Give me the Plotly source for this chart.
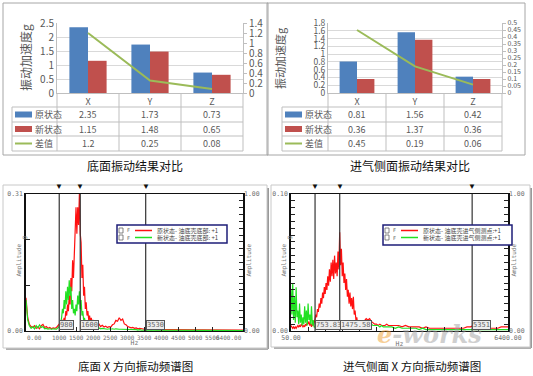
import numpy as np
import plotly.graph_objects as go

W, H = 533, 376
def px(x): return x / W
def py(y): return 1 - y / H

# ---------------- data ----------------
categories = ["X", "Y", "Z"]
series_names = ["原状态", "新状态", "差值"]
bottom_orig = [2.35, 1.73, 0.73]
bottom_new = [1.15, 1.48, 0.65]
bottom_diff = [1.2, 0.25, 0.08]
side_orig = [0.81, 1.56, 0.42]
side_new = [0.36, 1.37, 0.36]
side_diff = [0.45, 0.19, 0.06]

# spectrum 1 (bottom face, X direction)
freq_bottom = np.concatenate([np.arange(0, 900, 50), np.arange(900, 2100, 25),
                              np.arange(2100, 4000, 50), np.arange(4000, 6401, 100)])
amp_bottom_orig = [
    0.075, 0.03, 0.015, 0.01, 0.008, 0.012, 0.006, 0.009, 0.005, 0.012, 0.015, 0.008, 0.01, 0.006, 0.008, 0.005, 0.007, 0.006,
    0.008, 0.01, 0.012, 0.015, 0.012, 0.02, 0.015, 0.025, 0.02, 0.03, 0.025, 0.045, 0.035, 0.06, 0.045, 0.08, 0.06, 0.12,
    0.09, 0.16, 0.12, 0.18, 0.24, 0.28, 0.22, 0.28, 0.24, 0.31, 0.22, 0.2, 0.12, 0.15, 0.08, 0.1, 0.05, 0.065,
    0.035, 0.045, 0.025, 0.035, 0.02, 0.03, 0.018, 0.025, 0.015, 0.022, 0.013, 0.018,
    0.012, 0.016, 0.01, 0.013, 0.009, 0.011, 0.008, 0.01, 0.009, 0.014, 0.016, 0.024, 0.022, 0.03, 0.024, 0.027, 0.016, 0.014,
    0.01, 0.009, 0.007, 0.008, 0.006, 0.007, 0.005, 0.006, 0.005, 0.005, 0.004, 0.005, 0.004, 0.004, 0.003, 0.004, 0.003,
    0.003, 0.003, 0.003,
    0.003, 0.002, 0.003, 0.002, 0.002, 0.003, 0.002, 0.002, 0.002, 0.002, 0.002, 0.002, 0.002, 0.002, 0.002, 0.002, 0.002,
    0.002, 0.002, 0.002, 0.002, 0.002, 0.002, 0.002, 0.002]
amp_bottom_new = [
    0.07, 0.025, 0.012, 0.006, 0.01, 0.005, 0.012, 0.007, 0.014, 0.008, 0.01, 0.005, 0.006, 0.004, 0.005, 0.004, 0.005, 0.004,
    0.004, 0.006, 0.008, 0.01, 0.012, 0.02, 0.03, 0.05, 0.04, 0.07, 0.05, 0.09, 0.06, 0.1, 0.07, 0.115, 0.08, 0.1,
    0.05, 0.07, 0.04, 0.05, 0.035, 0.06, 0.045, 0.08, 0.06, 0.09, 0.05, 0.07, 0.035, 0.045, 0.025, 0.03, 0.018, 0.022,
    0.014, 0.016, 0.01, 0.012, 0.009, 0.01, 0.008, 0.009, 0.007, 0.008, 0.006, 0.007,
    0.006, 0.007, 0.005, 0.006, 0.005, 0.005, 0.004, 0.005, 0.004, 0.005, 0.004, 0.005, 0.004, 0.004, 0.004, 0.004, 0.003,
    0.004, 0.003, 0.003, 0.003, 0.003, 0.003, 0.003, 0.002, 0.003, 0.002, 0.002, 0.002, 0.002, 0.002, 0.002, 0.002, 0.002,
    0.002, 0.002, 0.002, 0.002,
    0.002, 0.002, 0.001, 0.002, 0.001, 0.002, 0.001, 0.001, 0.002, 0.001, 0.001, 0.001, 0.001, 0.001, 0.001, 0.001, 0.001,
    0.001, 0.001, 0.001, 0.001, 0.001, 0.001, 0.001, 0.001]
cursor_bottom = [980, 1600, 3530]
cursor_bottom_labels = ["980", "1600", "3530"]
xtick_bottom = [0, 1000, 1500, 2000, 2500, 3000, 3500, 4000, 4500, 5000, 5500, 6400]
xtick_bottom_text = ["0.00", "1000", "1500", "2000", "2500", "3000", "3500", "4000", "4500", "5000", "5500", "6400.00"]

# spectrum 2 (intake side, X direction)
freq_side = np.concatenate([np.arange(50, 750, 25), np.arange(750, 2000, 25),
                            np.arange(2000, 3000, 50), np.arange(3000, 6401, 100)])
amp_side_orig = [
    0.004, 0.003, 0.002, 0.003, 0.002, 0.003, 0.002, 0.003, 0.004, 0.003, 0.004, 0.003, 0.005, 0.004, 0.003, 0.004, 0.003,
    0.005, 0.004, 0.006, 0.005, 0.007, 0.004, 0.006, 0.003, 0.005, 0.004, 0.006,
    0.008, 0.012, 0.01, 0.016, 0.014, 0.02, 0.017, 0.024, 0.02, 0.028, 0.024, 0.032, 0.027, 0.035, 0.03, 0.04, 0.033, 0.045,
    0.036, 0.05, 0.04, 0.052, 0.038, 0.055, 0.042, 0.05, 0.04, 0.058, 0.045, 0.072, 0.048, 0.06, 0.04, 0.05, 0.035, 0.042,
    0.03, 0.038, 0.025, 0.03, 0.02, 0.028, 0.018, 0.024, 0.016, 0.025, 0.012, 0.015, 0.008, 0.01,
    0.005, 0.005, 0.006, 0.006, 0.008, 0.009, 0.008, 0.009, 0.007, 0.006, 0.005, 0.005, 0.004, 0.005, 0.004, 0.004, 0.004,
    0.005, 0.004, 0.004,
    0.004, 0.004, 0.004, 0.003, 0.004, 0.003, 0.003, 0.003, 0.003, 0.002, 0.003, 0.002, 0.002, 0.002, 0.002, 0.002, 0.002,
    0.002, 0.002, 0.002, 0.002, 0.002, 0.003, 0.003, 0.004, 0.003, 0.003, 0.002, 0.002, 0.002, 0.002, 0.002, 0.003, 0.003,
    0.003]
amp_side_new = [
    0.03, 0.012, 0.035, 0.008, 0.025, 0.006, 0.032, 0.01, 0.015, 0.005, 0.02, 0.006, 0.012, 0.004, 0.01, 0.005, 0.018,
    0.006, 0.015, 0.004, 0.02, 0.008, 0.012, 0.005, 0.018, 0.004, 0.008, 0.003,
    0.003, 0.002, 0.003, 0.002, 0.003, 0.003, 0.002, 0.003, 0.003, 0.004, 0.003, 0.004, 0.003, 0.004, 0.003, 0.004, 0.004,
    0.005, 0.004, 0.005, 0.004, 0.005, 0.004, 0.005, 0.005, 0.006, 0.005, 0.006, 0.005, 0.006, 0.005, 0.006, 0.005, 0.006,
    0.005, 0.006, 0.005, 0.006, 0.005, 0.006, 0.005, 0.005, 0.005, 0.005, 0.004, 0.005, 0.004, 0.005, 0.004, 0.005,
    0.005, 0.005, 0.006, 0.005, 0.006, 0.005, 0.005, 0.004, 0.005, 0.004, 0.004, 0.004, 0.004, 0.003, 0.004, 0.003, 0.003,
    0.003, 0.003, 0.003,
    0.003, 0.002, 0.003, 0.002, 0.002, 0.002, 0.002, 0.002, 0.001, 0.002, 0.001, 0.001, 0.001, 0.001, 0.001, 0.001, 0.001,
    0.001, 0.001, 0.001, 0.001, 0.001, 0.001, 0.001, 0.001, 0.001, 0.001, 0.001, 0.001, 0.001, 0.001, 0.001, 0.001, 0.001,
    0.001]
cursor_side = [753.83, 1475.58, 5351]
cursor_side_labels = ["753.83", "1475.58", "5351"]

legend_bottom = ["原状态- 油底壳底部: +1", "新状态- 油底壳底部: +1"]
legend_side = ["原状态- 油底壳进气侧测点:+1", "新状态- 油底壳进气侧测点:+1"]

# ---------------- style ----------------
BLUE, BRED, BGRN = "#4F81BD", "#C0504D", "#9BBB59"
SRED, SGRN = "#FF1010", "#22E022"
CJK = "Noto Sans CJK SC, DejaVu Sans, sans-serif"
MONO = "DejaVu Sans Mono, monospace"
GREY = "#595959"

fig = go.Figure()

fig.add_bar(x=categories, y=bottom_orig, marker_color=BLUE, xaxis="x", yaxis="y", offsetgroup="a")
fig.add_bar(x=categories, y=bottom_new, marker_color=BRED, xaxis="x", yaxis="y", offsetgroup="b")
fig.add_scatter(x=categories, y=bottom_diff, mode="lines", line=dict(color=BGRN, width=2), xaxis="x", yaxis="y2")
fig.add_bar(x=categories, y=side_orig, marker_color=BLUE, xaxis="x2", yaxis="y3", offsetgroup="a")
fig.add_bar(x=categories, y=side_new, marker_color=BRED, xaxis="x2", yaxis="y3", offsetgroup="b")
fig.add_scatter(x=categories, y=side_diff, mode="lines", line=dict(color=BGRN, width=2), xaxis="x2", yaxis="y4")
fig.add_scatter(x=freq_bottom, y=amp_bottom_orig, mode="lines", line=dict(color=SRED, width=1.2), xaxis="x3", yaxis="y5")
fig.add_scatter(x=freq_bottom, y=amp_bottom_new, mode="lines", line=dict(color=SGRN, width=1.2), xaxis="x3", yaxis="y5")
fig.add_scatter(x=[0], y=[0], mode="markers", marker=dict(opacity=0), xaxis="x3", yaxis="y6", hoverinfo="skip")
fig.add_scatter(x=freq_side, y=amp_side_orig, mode="lines", line=dict(color=SRED, width=1.2), xaxis="x4", yaxis="y7")
fig.add_scatter(x=freq_side, y=amp_side_new, mode="lines", line=dict(color=SGRN, width=1.2), xaxis="x4", yaxis="y7")
fig.add_scatter(x=[50], y=[0], mode="markers", marker=dict(opacity=0), xaxis="x4", yaxis="y8", hoverinfo="skip")

P1 = (57, 243)
P2 = (328, 502)
TOP = (23, 93)
P3 = (26, 243)
P4 = (291, 508)
BOT = (194, 331)

cat_axis = dict(showline=True, linecolor="#BFBFBF", ticks="", tickfont=dict(size=9, color=GREY, family=CJK),
                automargin=False, fixedrange=True)
def left_bar_axis(rng, dt, size):
    return dict(domain=[py(TOP[1]), py(TOP[0])], range=rng, dtick=dt, showgrid=True, gridcolor="#D9D9D9",
                showline=True, linecolor="#BFBFBF", ticks="", zeroline=False,
                tickfont=dict(size=size, color=GREY, family=CJK), automargin=False)
def right_bar_axis(over, rng, dt, size):
    return dict(overlaying=over, side="right", range=rng, dtick=dt, showgrid=False, showline=True,
                linecolor="#BFBFBF", ticks="outside", ticklen=3, tickcolor="#BFBFBF", zeroline=False,
                tickfont=dict(size=size, color=GREY, family=CJK), automargin=False)

spec_font = dict(size=6.5, color="#707070", family=MONO)
def spec_x(dom, rng, tv, tt, minor, show_labels):
    return dict(domain=[px(dom[0]), px(dom[1])], range=rng, tickmode="array", tickvals=tv, ticktext=tt,
                tickangle=0, ticks="inside", ticklen=4, tickcolor="#222", showline=True, mirror=True,
                linecolor="#111", linewidth=1, showgrid=False, zeroline=False, showticklabels=show_labels,
                tickfont=spec_font, automargin=False, minor=minor,
                title=dict(text="Hz", font=spec_font, standoff=0 if show_labels else 9))
def spec_y(anchor, rng, tt, mdt):
    return dict(anchor=anchor, domain=[py(BOT[1]), py(BOT[0])], range=rng, tickmode="array", tickvals=rng,
                ticktext=tt, ticks="inside", ticklen=4, tickcolor="#222", showline=True, mirror=True,
                linecolor="#111", linewidth=1.5, showgrid=False, zeroline=False, tickfont=spec_font,
                automargin=False, minor=dict(tickmode="linear", tick0=0, dtick=mdt, ticks="inside", ticklen=4,
                                             tickcolor="#222"))
def spec_r(over, anchor):
    return dict(overlaying=over, anchor=anchor, side="right", range=[0, 1], tickmode="array", tickvals=[0, 1],
                ticktext=["0.00", "1.00"], ticks="inside", ticklen=5, tickcolor="#222", showline=False,
                showgrid=False, zeroline=False, tickfont=spec_font, automargin=False,
                minor=dict(tickmode="linear", tick0=0, dtick=0.05, ticks="inside", ticklen=4, tickcolor="#222"))

fig.update_layout(
    template="none", width=W, height=376, margin=dict(l=0, r=0, t=0, b=0),
    paper_bgcolor="white", plot_bgcolor="rgba(0,0,0,0)", showlegend=False,
    barmode="group", bargap=0.4, bargroupgap=0,
    xaxis=dict(domain=[px(P1[0]), px(P1[1])], anchor="y", **cat_axis),
    yaxis=dict(anchor="x", **left_bar_axis([0, 2.5], 0.5, 10)),
    yaxis2=dict(anchor="x", **right_bar_axis("y", [0, 1.4], 0.2, 10)),
    xaxis2=dict(domain=[px(P2[0]), px(P2[1])], anchor="y3", **cat_axis),
    yaxis3=dict(anchor="x2", **left_bar_axis([0, 1.8], 0.2, 8.5)),
    yaxis4=dict(anchor="x2", **right_bar_axis("y3", [0, 0.5], 0.05, 7)),
    xaxis3=dict(anchor="y5", **spec_x(P3, [0, 6400], xtick_bottom, xtick_bottom_text, dict(), False)),
    yaxis5=spec_y("x3", [0, 0.31], ["0.00", "0.31"], 0.31 / 3),
    yaxis6=spec_r("y5", "x3"),
    xaxis4=dict(anchor="y7", **spec_x(P4, [50, 6400], [50, 6400], ["50.00", "6400.00"],
                                      dict(tickmode="linear", tick0=50, dtick=500, ticks="inside", ticklen=4,
                                           tickcolor="#222"), True)),
    yaxis7=spec_y("x4", [0, 0.1], ["0.00", "0.10"], 0.005),
    yaxis8=spec_r("y7", "x4"),
)

shapes = []
annots = []
def line(x0, y0, x1, y1, color="#BFBFBF", w=1):
    shapes.append(dict(type="line", xref="paper", yref="paper", x0=px(x0), y0=py(y0), x1=px(x1), y1=py(y1),
                       line=dict(color=color, width=w)))
def rect(x0, y0, x1, y1, color="#A6A6A6", w=1, fill="rgba(0,0,0,0)"):
    shapes.append(dict(type="rect", xref="paper", yref="paper", x0=px(x0), y0=py(y0), x1=px(x1), y1=py(y1),
                       line=dict(color=color, width=w), fillcolor=fill))
def text(x, y, t, size=9, color=GREY, xa="center", ya="middle", angle=0, family=CJK):
    annots.append(dict(xref="paper", yref="paper", x=px(x), y=py(y), text=t, showarrow=False, xanchor=xa,
                       yanchor=ya, textangle=angle, font=dict(size=size, color=color, family=family)))

# tick labels of the first spectrum x axis (all of them, written as text so none is dropped)
for i, (v, t) in enumerate(zip(xtick_bottom, xtick_bottom_text)):
    xa = "left" if i == 0 else ("right" if i == len(xtick_bottom) - 1 else "center")
    annots.append(dict(xref="x3", yref="paper", x=v, y=py(BOT[1] + 2), text=t, showarrow=False, xanchor=xa,
                       yanchor="top", font=dict(size=6, color="#707070", family=MONO), borderpad=0))

def bar_panel(frame, tbl_left, plot, vals, ytitle_x, ytitle_size, title, title_x):
    rect(*frame, color="#A6A6A6")
    x0, x1 = plot
    cw = (x1 - x0) / 3
    rows = [107, 122, 136, 151]
    for r in rows:
        line(tbl_left, r, x1, r)
    line(tbl_left, rows[0], tbl_left, rows[-1])
    for i in range(4):
        line(x0 + i * cw, TOP[1], x0 + i * cw, rows[-1])
    keys_x = tbl_left + 3
    colors = [BLUE, BRED, BGRN]
    for j, (name, series) in enumerate(zip(series_names, vals)):
        yc = (rows[j] + rows[j + 1]) / 2
        if j < 2:
            rect(keys_x, yc - 3, keys_x + 17, yc + 3, color=colors[j], w=0, fill=colors[j])
        else:
            line(keys_x, yc, keys_x + 17, yc, color=colors[j], w=2)
        text(keys_x + 18, yc, name, size=9, xa="left")
        for i, v in enumerate(series):
            text(x0 + (i + 0.5) * cw, yc, f"{v:g}", size=9)
    text(ytitle_x, (TOP[0] + TOP[1]) / 2, "振动加速度g", size=ytitle_size, angle=-90)
    text(title_x, 166, title, size=12, color="#111")

bar_panel((3, 3, 268, 155), 12, P1, [bottom_orig, bottom_new, bottom_diff], 25, 12, "底面振动结果对比", 135)
bar_panel((267, 3, 525, 155), 282, P2, [side_orig, side_new, side_diff], 280, 11, "进气侧面振动结果对比", 410)

def spec_panel(frame, plot, xref, cursors, labels, leg_box, leg_texts, title, title_x):
    fx0, fy0, fx1, fy1 = frame
    line(fx1 + 1, fy0 + 3, fx1 + 1, fy1 + 1, color="#9A9A9A", w=2)
    line(fx0 + 3, fy1 + 1, fx1 + 1, fy1 + 1, color="#B0B0B0", w=2)
    rect(*frame, color="#C8C8C8")
    for c, lab in zip(cursors, labels):
        shapes.append(dict(type="line", xref=xref, yref="paper", x0=c, x1=c, y0=py(BOT[1]), y1=py(BOT[0]),
                           line=dict(color="#333", width=1.2)))
        annots.append(dict(xref=xref, yref="paper", x=c, y=py(BOT[0] - 1), text="▼", showarrow=False,
                           xanchor="center", yanchor="bottom", font=dict(size=8, color="#111")))
        annots.append(dict(xref=xref, yref="paper", x=c, y=py(BOT[1] - 1), text=lab, showarrow=False,
                           xanchor="left", yanchor="bottom", bgcolor="#EDEDED", bordercolor="#555",
                           borderwidth=1, borderpad=0, font=dict(size=7, color="#666", family=MONO)))
    lx0, ly0, lx1, ly1 = leg_box
    rect(lx0, ly0, lx1, ly1, color="#1E1E78", w=1.5, fill="white")
    for k, (t, col) in enumerate(zip(leg_texts, [SRED, SGRN])):
        yc = ly0 + 5.5 + k * 7
        rect(lx0 + 2, yc - 2.5, lx0 + 6, yc + 2.5, color="#666", w=0.8, fill="white")
        text(lx0 + 8, yc, "F", size=5, color="#666", xa="left", family=MONO)
        line(lx0 + 18, yc, lx0 + 35, yc, color=col, w=1.5)
        text(lx0 + 38, yc, t, size=6, color="#444", xa="left")
    text(plot[0] - 8, (BOT[0] + BOT[1]) / 2 - 2, "Amplitude", size=6, color="#777", angle=-90, family=MONO)
    text(plot[0] - 3, (BOT[0] + BOT[1]) / 2 - 25, "g", size=6, color="#777", angle=-90, family=MONO)
    text(plot[1] + 5, (BOT[0] + BOT[1]) / 2 - 2, "Amplitude", size=6, color="#777", angle=-90, family=MONO)
    text(title_x, 366, title, size=11.5, color="#111")

spec_panel((3, 185, 267, 348), P3, "x3", cursor_bottom, cursor_bottom_labels, (117, 225, 227, 243),
           legend_bottom, "底面 X 方向振动频谱图", 135)
spec_panel((271, 185, 530, 347), P4, "x4", cursor_side, cursor_side_labels, (383, 225, 512, 245),
           legend_side, "进气侧面 X 方向振动频谱图", 412)

annots.append(dict(xref="paper", yref="paper", x=px(484), y=py(351), showarrow=False, opacity=0.5,
                   text="<b><i><span style='color:#F0A030'>e</span>-works</i></b>",
                   font=dict(size=24, color="#A0A0A0", family="DejaVu Serif")))

fig.update_layout(shapes=shapes, annotations=annots)
fig.write_html("out.html")
